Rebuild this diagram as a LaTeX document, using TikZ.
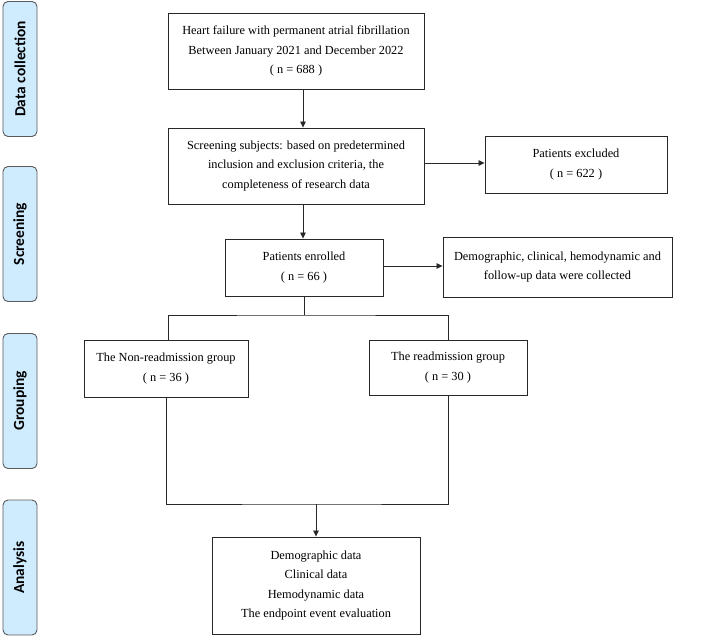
\documentclass[tikz,border=0pt]{standalone}
\usepackage{fontspec}
\setmainfont{Liberation Serif}
\newfontfamily\labfont{Carlito}
\usetikzlibrary{arrows.meta}
\definecolor{labfill}{RGB}{207,236,255}
\definecolor{labdraw}{RGB}{90,90,90}
\definecolor{linec}{RGB}{40,40,40}
\tikzset{
  box/.style={draw=linec, line width=0.9bp, inner sep=0pt, align=center,
    font=\fontsize{12.4}{19.5}\selectfont},
  lab/.style={draw=labdraw, fill=labfill, line width=0.9bp, rounded corners=5bp,
    rotate=90, inner sep=0pt, minimum width=135bp, minimum height=34bp,
    font=\labfont\bfseries\fontsize{15.5}{17}\selectfont},
  conn/.style={draw=linec, line width=0.8bp},
  arr/.style={conn, -{Triangle[length=6bp,width=5.5bp]}}
}
\begin{document}
\begin{tikzpicture}[x=1bp,y=-1bp]
\useasboundingbox (0,0) rectangle (708,637);
% stage labels
\node[lab] (l1) at (20,69) {Data collection};
\node[lab] (l2) at (20,234) {Screening};
\node[lab] (l3) at (20,401) {Grouping};
\node[lab] (l4) at (20,567.5) {Analysis};
% boxes
\node[box, minimum width=256bp, minimum height=76bp] (b1) at (296,51)
  {Heart failure with permanent atrial fibrillation\\Between January 2021 and December 2022\\( n = 688 )};
\node[box, minimum width=256bp, minimum height=76bp] (b2) at (296,166)
  {Screening subjects: based on predetermined\\inclusion and exclusion criteria, the\\completeness of research data};
\node[box, minimum width=182bp, minimum height=57bp] (ex) at (576,164.5)
  {Patients excluded\\( n = 622 )};
\node[box, minimum width=158bp, minimum height=57bp] (en) at (304,267.5)
  {Patients enrolled\\( n = 66 )};
\node[box, minimum width=229bp, minimum height=60bp] (dm) at (557.5,267)
  {Demographic, clinical, hemodynamic and\\follow-up data were collected};
\node[box, minimum width=164bp, minimum height=57bp] (g1) at (166,368.5)
  {The Non-readmission group\\( n = 36 )};
\node[box, minimum width=158bp, minimum height=55bp] (g2) at (448,367.5)
  {The readmission group\\( n = 30 )};
\node[box, minimum width=208bp, minimum height=97bp] (an) at (316,585.5)
  {Demographic data\\Clinical data\\Hemodynamic data\\The endpoint event evaluation};
% connectors
\coordinate (ax) at (303,0);
\draw[arr] (b1.south -| ax) -- (b2.north -| ax);
\draw[arr] (b2.south -| ax) -- (en.north -| ax);
\draw[arr] (b2.east |- 0,163) -- (ex.west |- 0,163);
\draw[arr] (en.east |- 0,266) -- (dm.west |- 0,266);
\coordinate (sp) at (304,315);
\coordinate (jn) at (316,504);
\draw[conn] (en.south -| sp) -- (sp);
\draw[conn] (g1.north -| 168,0) |- (sp) -| (g2.north);
\draw[conn] (g1.south) |- (jn) -| (g2.south);
\draw[arr] (jn) -- (an.north -| jn);
\end{tikzpicture}
\end{document}
